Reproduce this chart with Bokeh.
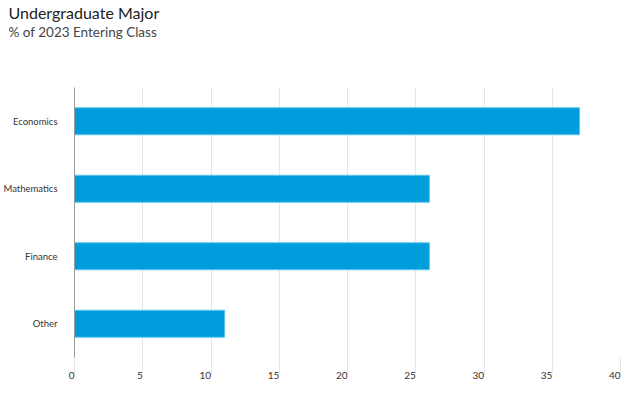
from bokeh.plotting import figure
from bokeh.models import Title, FactorRange, ColumnDataSource
from bokeh.embed import file_html
from bokeh.resources import INLINE

categories = ["Economics", "Mathematics", "Finance", "Other"]
values = [37, 26, 26, 11]
x_ticks = [0, 5, 10, 15, 20, 25, 30, 35, 40]

FONT = "Lato"

source = ColumnDataSource(data=dict(cat=categories, val=values))

p = figure(
    frame_width=546, frame_height=270,
    y_range=FactorRange(factors=list(reversed(categories))),
    x_range=(0, 40),
    output_backend="svg", toolbar_location=None, title=None,
    min_border_left=66, min_border_right=14, min_border_bottom=26, min_border_top=0,
)

sub = Title(text="% of 2023 Entering Class", text_font=FONT, text_font_size="13.5px",
            text_color="#444444", text_font_style="normal", standoff=0, offset=-66,
            padding=dict(top=0, right=0, bottom=48, left=0))
main = Title(text="Undergraduate Major", text_font=FONT, text_font_size="16px",
             text_color="#222222", text_font_style="normal", standoff=0, offset=-66)
p.add_layout(sub, "above")
p.add_layout(main, "above")

p.hbar(y="cat", right="val", height=0.4, source=source,
       fill_color="#009ddc", line_color="#5cc6ee", line_width=1)

p.outline_line_color = None
p.ygrid.grid_line_color = None
p.xgrid.grid_line_color = "#e6e6e6"
p.xgrid.ticker = x_ticks

xa = p.below[0]
xa.ticker = x_ticks
xa.axis_line_color = None
xa.major_tick_in = 0
xa.major_tick_out = 17
xa.major_tick_line_color = "#e6e6e6"
xa.minor_tick_line_color = None
xa.major_label_orientation = 0.0001
xa.major_label_standoff = 1
xa.major_label_text_font = FONT
xa.major_label_text_font_size = "10px"
xa.major_label_text_color = "#333333"

ya = p.yaxis[0]
ya.axis_line_color = "#999999"
ya.major_tick_line_color = None
ya.minor_tick_line_color = None
ya.major_label_standoff = 11
ya.major_label_text_font = FONT
ya.major_label_text_font_size = "9.5px"
ya.major_label_text_color = "#333333"

open("out.html", "w").write(file_html(p, INLINE))
